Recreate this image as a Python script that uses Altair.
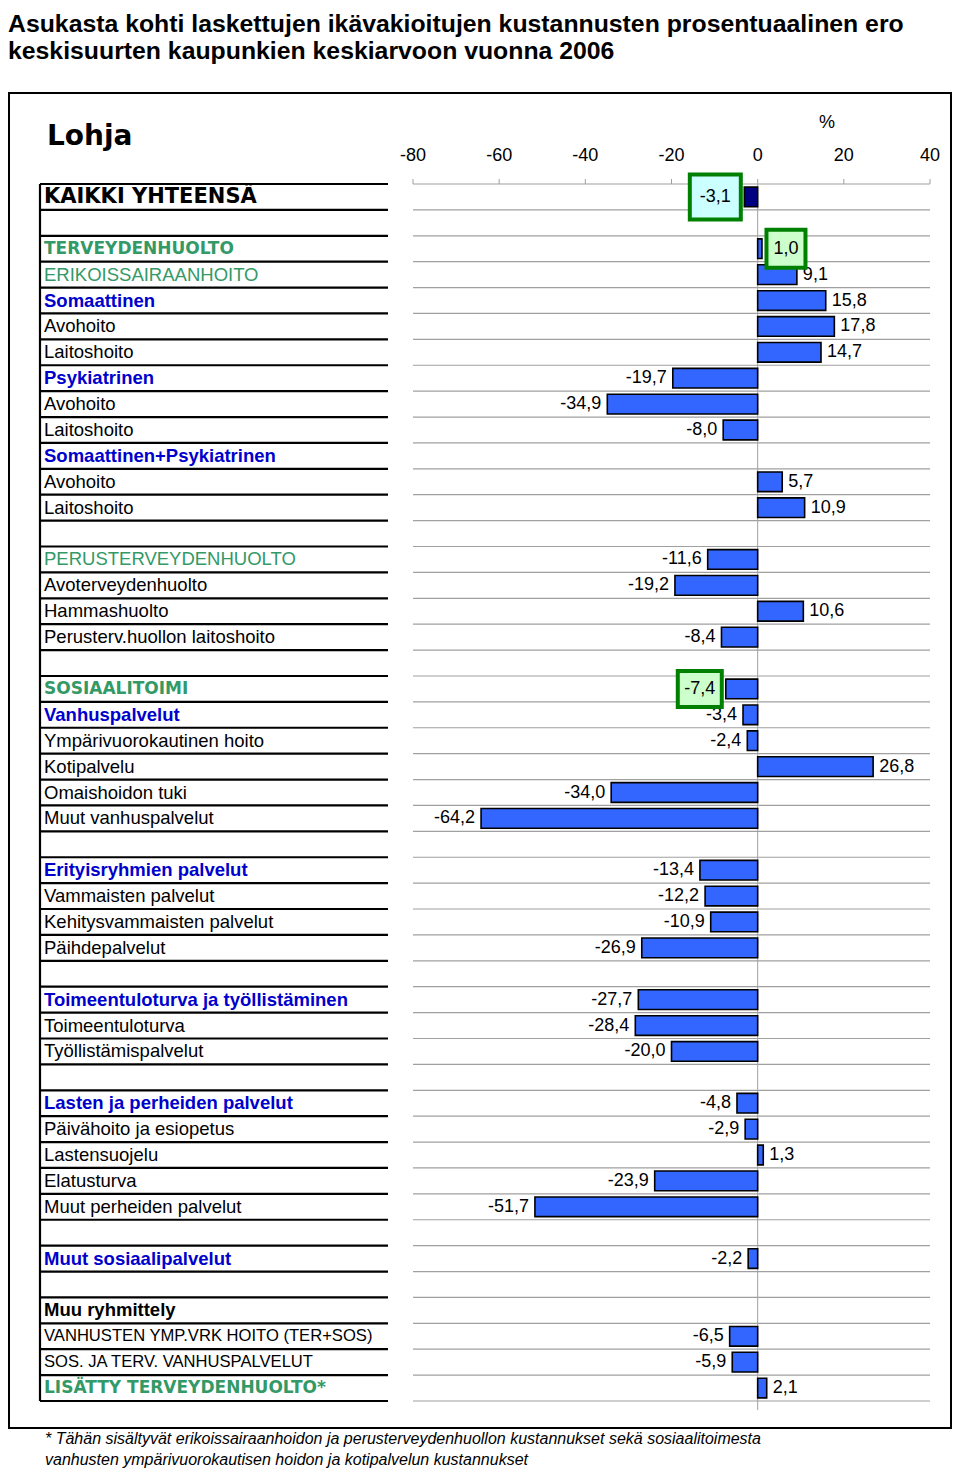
import altair as alt
import pandas as pd

# ---------------- data ----------------
title_lines = [
    "Asukasta kohti laskettujen ikävakioitujen kustannusten prosentuaalinen ero",
    "keskisuurten kaupunkien keskiarvoon vuonna 2006",
]
city = "Lohja"
unit = "%"
x_ticks = [-80, -60, -40, -20, 0, 20, 40]
footnote_lines = [
    "* Tähän sisältyvät erikoissairaanhoidon ja perusterveydenhuollon kustannukset sekä sosiaalitoimesta",
    "vanhusten ympärivuorokautisen hoidon ja kotipalvelun kustannukset",
]

labels = [
    "KAIKKI YHTEENSÄ", "",
    "TERVEYDENHUOLTO", "ERIKOISSAIRAANHOITO", "Somaattinen", "Avohoito", "Laitoshoito",
    "Psykiatrinen", "Avohoito", "Laitoshoito", "Somaattinen+Psykiatrinen", "Avohoito", "Laitoshoito",
    "",
    "PERUSTERVEYDENHUOLTO", "Avoterveydenhuolto", "Hammashuolto", "Perusterv.huollon laitoshoito",
    "",
    "SOSIAALITOIMI", "Vanhuspalvelut", "Ympärivuorokautinen hoito", "Kotipalvelu",
    "Omaishoidon tuki", "Muut vanhuspalvelut",
    "",
    "Erityisryhmien palvelut", "Vammaisten palvelut", "Kehitysvammaisten palvelut", "Päihdepalvelut",
    "",
    "Toimeentuloturva ja työllistäminen", "Toimeentuloturva", "Työllistämispalvelut",
    "",
    "Lasten ja perheiden palvelut", "Päivähoito ja esiopetus", "Lastensuojelu", "Elatusturva",
    "Muut perheiden palvelut",
    "",
    "Muut sosiaalipalvelut",
    "",
    "Muu ryhmittely", "VANHUSTEN YMP.VRK HOITO (TER+SOS)", "SOS. JA TERV. VANHUSPALVELUT",
    "LISÄTTY TERVEYDENHUOLTO*",
]
levels = [
    "total", "blank",
    "sector", "area", "group", "item", "item",
    "group", "item", "item", "group", "item", "item",
    "blank",
    "area", "item", "item", "item",
    "blank",
    "sector", "group", "item", "item", "item", "item",
    "blank",
    "group", "item", "item", "item",
    "blank",
    "group", "item", "item",
    "blank",
    "group", "item", "item", "item", "item",
    "blank",
    "group",
    "blank",
    "misc", "item_small", "item_small",
    "sector",
]
values = [
    -3.1, None,
    1.0, 9.1, 15.8, 17.8, 14.7,
    -19.7, -34.9, -8.0, None, 5.7, 10.9,
    None,
    -11.6, -19.2, 10.6, -8.4,
    None,
    -7.4, -3.4, -2.4, 26.8, -34.0, -64.2,
    None,
    -13.4, -12.2, -10.9, -26.9,
    None,
    -27.7, -28.4, -20.0,
    None,
    -4.8, -2.9, 1.3, -23.9, -51.7,
    None,
    -2.2,
    None,
    None, -6.5, -5.9,
    2.1,
]
highlight_rows = [0, 2, 19]
highlight_fills = ["#CCFFFF", "#CCFFCC", "#CCFFCC"]

# ---------------- styling / layout ----------------
ARIAL = "Liberation Sans, Arial, Helvetica, sans-serif"
HEAVY = "DejaVu Sans, Verdana, sans-serif"
GREEN = "#339966"
BLUE = "#0000CC"
BAR = "#3366FF"
BAR_TOTAL = "#000080"
GRID = "#A0A0A0"
W, H = 517, 1217
N = len(labels)

# highlight label layout: (text centre offset from bar end, box width, box height)
hl_layout = {0: (-29, 55, 49), 2: (24, 43, 42), 19: (-26, 48, 40)}

styles = {
    "total": dict(font=HEAVY, fontWeight="bold", fontSize=21, color="black"),
    "sector": dict(font=HEAVY, fontWeight="bold", fontSize=17, color=GREEN),
    "area": dict(font=ARIAL, fontWeight="normal", fontSize=18.5, color=GREEN),
    "group": dict(font=ARIAL, fontWeight="bold", fontSize=18.5, color=BLUE),
    "misc": dict(font=ARIAL, fontWeight="bold", fontSize=18.5, color="black"),
    "item": dict(font=ARIAL, fontWeight="normal", fontSize=18.5, color="black"),
    "item_small": dict(font=ARIAL, fontWeight="normal", fontSize=16.6, color="black"),
}

rows = pd.DataFrame({"row": list(range(N)), "label": labels, "level": levels,
                     "value": [float("nan") if v is None else v for v in values]})
rows["mid"] = rows["row"] + 0.5
rows["top"] = rows["row"] + 0.12
rows["bot"] = rows["row"] + 0.88
rows["txt"] = ["" if v is None else f"{v:.1f}".replace(".", ",") for v in values]

ticks = pd.DataFrame({"t": x_ticks, "tl": [str(t) for t in x_ticks]})
bounds = pd.DataFrame({"b": list(range(N + 1))})
one = pd.DataFrame({"k": [0]})

xscale = alt.Scale(domain=[-80, 40], nice=False, zero=False)
yscale = alt.Scale(domain=[0, N], reverse=True, nice=False, zero=False)

layers = []

# outer frame
layers.append(alt.Chart(one).mark_rect(fillOpacity=0, stroke="black", strokeWidth=2).encode(
    x=alt.value(-404), x2=alt.value(538), y=alt.value(-91), y2=alt.value(1244)))

# top scale: tick marks and labels
layers.append(alt.Chart(ticks).mark_rule(color=GRID, strokeWidth=1).encode(
    x=alt.X("t:Q", scale=xscale, axis=None), y=alt.value(-5), y2=alt.value(0)))
layers.append(alt.Chart(ticks).mark_text(baseline="middle", align="center", font=ARIAL,
                                         fontSize=18, color="black").encode(
    x=alt.X("t:Q", scale=xscale, axis=None), y=alt.value(-28), text="tl:N"))

# grey grid lines at row boundaries
layers.append(alt.Chart(bounds).mark_rule(color=GRID, strokeWidth=1.2).encode(
    y=alt.Y("b:Q", scale=yscale, axis=None), x=alt.value(0), x2=alt.value(W)))

# zero line
layers.append(alt.Chart(one).mark_rule(color=GRID, strokeWidth=1).encode(
    x=alt.X(datum=0, scale=xscale, axis=None),
    y=alt.Y(datum=0, scale=yscale, axis=None), y2=alt.datum(N + 0.35)))

# table lines (left)
layers.append(alt.Chart(bounds).mark_rule(color="black", strokeWidth=2.2).encode(
    y=alt.Y("b:Q", scale=yscale, axis=None), x=alt.value(-373), x2=alt.value(-25)))
layers.append(alt.Chart(one).mark_rule(color="black", strokeWidth=2.2).encode(
    x=alt.value(-373), y=alt.Y(datum=0, scale=yscale, axis=None), y2=alt.datum(N)))

# bars
layers.append(alt.Chart(rows).transform_filter("isValid(datum.value) && isFinite(datum.value)").mark_rect(
    stroke="black", strokeWidth=1.6).encode(
    x=alt.X("value:Q", scale=xscale, axis=None), x2=alt.datum(0),
    y=alt.Y("top:Q", scale=yscale, axis=None), y2="bot:Q",
    color=alt.condition("datum.row == 0", alt.value(BAR_TOTAL), alt.value(BAR))))

hl_list = "[" + ",".join(str(r) for r in highlight_rows) + "]"
base_lbl = alt.Chart(rows).transform_filter(
    f"isValid(datum.value) && isFinite(datum.value) && indexof({hl_list}, datum.row) < 0")
enc = dict(x=alt.X("value:Q", scale=xscale, axis=None),
           y=alt.Y("mid:Q", scale=yscale, axis=None), text="txt:N")
layers.append(base_lbl.transform_filter("datum.value < 0").mark_text(
    align="right", baseline="middle", dx=-6, font=ARIAL, fontSize=18, color="black").encode(**enc))
layers.append(base_lbl.transform_filter("datum.value >= 0").mark_text(
    align="left", baseline="middle", dx=6, font=ARIAL, fontSize=18, color="black").encode(**enc))

# highlighted labels with boxes
for r, fill in zip(highlight_rows, highlight_fills):
    off, bw, bh = hl_layout[r]
    sub = alt.Chart(rows).transform_filter(f"datum.row == {r}")
    layers.append(sub.mark_rect(fill=fill, stroke="#008000", strokeWidth=4,
                                xOffset=off - bw / 2 + 2, x2Offset=off + bw / 2 - 2,
                                yOffset=-(bh / 2 - 2), y2Offset=bh / 2 - 2).encode(
        x=alt.X("value:Q", scale=xscale, axis=None), x2="value:Q",
        y=alt.Y("mid:Q", scale=yscale, axis=None), y2="mid:Q"))
    layers.append(sub.mark_text(align="center", baseline="middle", dx=off, font=ARIAL,
                                fontSize=18, color="black").encode(**enc))

# left labels
for lvl, st in styles.items():
    layers.append(alt.Chart(rows).transform_filter(f"datum.level == '{lvl}'").mark_text(
        align="left", baseline="middle", **st).encode(
        x=alt.value(-369), y=alt.Y("mid:Q", scale=yscale, axis=None), text="label:N"))

# texts
def txt(s, x, y, **kw):
    return alt.Chart(pd.DataFrame({"t": [s]})).mark_text(baseline="middle", **kw).encode(
        x=alt.value(x), y=alt.value(y), text="t:N")

layers.append(txt(title_lines[0], -405, -159, align="left", font=ARIAL, fontWeight="bold", fontSize=24.8))
layers.append(txt(title_lines[1], -405, -132, align="left", font=ARIAL, fontWeight="bold", fontSize=24.8))
layers.append(txt(city, -366, -47, align="left", font=HEAVY, fontWeight="bold", fontSize=28))
layers.append(txt(unit, 414, -61, align="center", font=ARIAL, fontSize=18))
layers.append(txt(footnote_lines[0], -368, 1255, align="left", font=ARIAL, fontStyle="italic", fontSize=16))
layers.append(txt(footnote_lines[1], -368, 1276, align="left", font=ARIAL, fontStyle="italic", fontSize=16))

chart = alt.layer(*layers).properties(
    width=W, height=H, autosize="none",
    padding={"left": 405, "top": 176, "right": 22, "bottom": 69},
).configure_view(strokeWidth=0)

chart.save("out.html", embed_options={"renderer": "svg", "actions": False})
